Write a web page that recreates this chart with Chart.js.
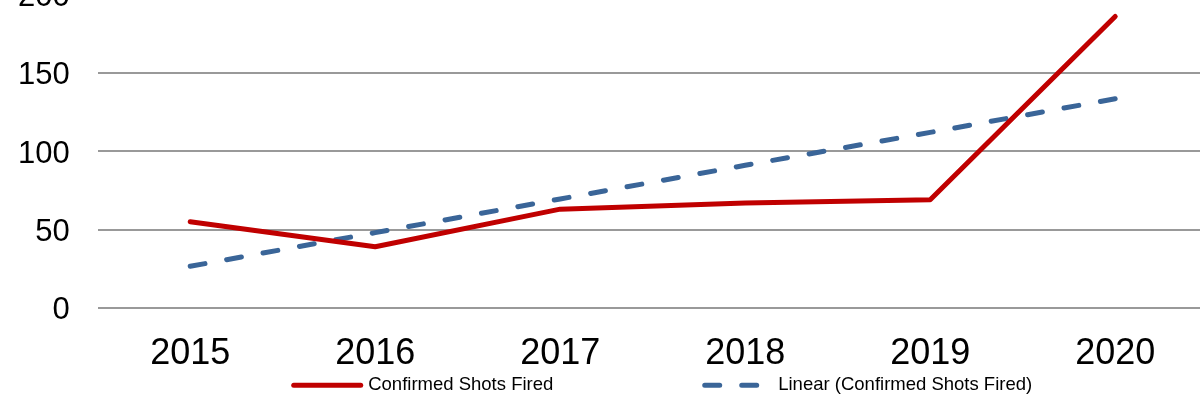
<!DOCTYPE html>
<html lang="en">
<head>
  <meta charset="UTF-8">
  <title>Confirmed Shots Fired</title>
  <script src="https://cdn.jsdelivr.net/npm/chart.js"></script>
  <style>
    html, body {
      margin: 0;
      padding: 0;
      width: 1200px;
      height: 402px;
      overflow: hidden;
      background: #fff;
    }

    /* the original is cropped: the 200 line sits just above the top edge */
    .chart-box {
      position: absolute;
      left: -28px;
      top: -52px;
      width: 1248px;
      height: 454px;
    }
  </style>
</head>
<body>
  <div class="chart-box">
    <canvas id="myChart"></canvas>
  </div>

  <script>
    // Data
    const years = ['2015', '2016', '2017', '2018', '2019', '2020'];
    const shotsFired = [55, 39, 63, 67, 69, 186];
    const linearTrend = [26.5, 48, 69.5, 91, 112, 133.5];
    const yTicks = [0, 50, 100, 150, 200];

    const fontFamily = '"Liberation Sans", Arial, sans-serif';

    // Legend drawn by hand so the items can sit where the original has them
    const bottomLegend = {
      id: 'bottomLegend',
      afterDraw(chart) {
        const ctx = chart.ctx;
        const left = chart.chartArea.left;
        const y = chart.chartArea.bottom + 77.5;
        const items = [
          { ds: chart.data.datasets[0], x: left + 196, w: 67, gap: 7.5 },
          { ds: chart.data.datasets[1], x: left + 607, w: 52, gap: 21.5 }
        ];
        ctx.save();
        ctx.font = '18.5px ' + fontFamily;
        ctx.textBaseline = 'middle';
        ctx.fillStyle = '#000';
        items.forEach(item => {
          ctx.beginPath();
          ctx.strokeStyle = item.ds.borderColor;
          ctx.lineWidth = item.ds.borderWidth;
          ctx.lineCap = 'round';
          ctx.setLineDash(item.ds.borderDash || []);
          ctx.moveTo(item.x, y);
          ctx.lineTo(item.x + item.w, y);
          ctx.stroke();
          ctx.setLineDash([]);
          ctx.fillText(item.ds.label, item.x + item.w + item.gap, y);
        });
        ctx.restore();
      }
    };

    const ctx = document.getElementById('myChart').getContext('2d');
    const myChart = new Chart(ctx, {
      type: 'line',
      data: {
        labels: years,
        datasets: [
          {
            label: 'Confirmed Shots Fired',
            data: shotsFired,
            borderColor: '#C00000',
            borderWidth: 5,
            borderCapStyle: 'round',
            borderJoinStyle: 'round',
            pointRadius: 0,
            tension: 0
          },
          {
            label: 'Linear (Confirmed Shots Fired)',
            data: linearTrend,
            borderColor: '#3A6598',
            borderWidth: 5,
            borderDash: [15, 22],
            borderCapStyle: 'round',
            pointRadius: 0,
            tension: 0
          }
        ]
      },
      options: {
        responsive: true,
        maintainAspectRatio: false,
        animation: false,
        layout: {
          padding: { top: 25, left: 18, right: 12.3, bottom: 1 }
        },
        plugins: {
          legend: { display: false },
          tooltip: { enabled: false }
        },
        scales: {
          x: {
            offset: true,
            grid: { display: false, drawTicks: false },
            border: { display: false },
            ticks: {
              color: '#000',
              padding: 25,
              font: { family: fontFamily, size: 36 }
            }
          },
          y: {
            min: 0,
            max: 200,
            afterBuildTicks: axis => {
              axis.ticks = yTicks.map(v => ({ value: v }));
            },
            grid: { color: '#999', lineWidth: 2, drawTicks: false },
            border: { display: false },
            ticks: {
              color: '#000',
              padding: 28,
              labelOffset: 3,
              font: { family: fontFamily, size: 31 }
            }
          }
        }
      },
      plugins: [bottomLegend]
    });
  </script>
</body>
</html>
